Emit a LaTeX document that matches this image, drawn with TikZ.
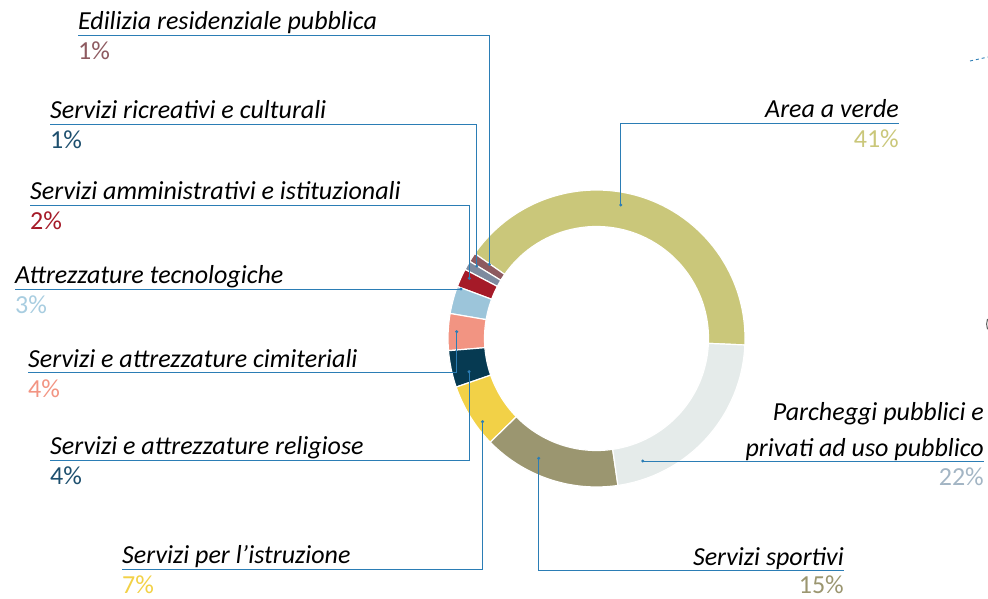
\documentclass[tikz,border=0pt]{standalone}
\usepackage{fontspec}
\setmainfont{Carlito}
\usepackage{tikz}

\definecolor{cVerde}{HTML}{CAC77A}
\definecolor{cEdil}{HTML}{8E5A60}
\definecolor{cRicr}{HTML}{7E8A9F}
\definecolor{cAmm}{HTML}{A51A28}
\definecolor{cTec}{HTML}{9CC5DA}
\definecolor{cCim}{HTML}{F29482}
\definecolor{cRel}{HTML}{063A52}
\definecolor{cIstr}{HTML}{F2D147}
\definecolor{cSport}{HTML}{9B9670}
\definecolor{cParch}{HTML}{E5EBEA}
\definecolor{cLeader}{HTML}{2B7DB5}
\definecolor{tRicr}{HTML}{1D4F6E}
\definecolor{tTec}{HTML}{A8CDE0}
\definecolor{tParch}{HTML}{A3B5C4}

\tikzset{
	lab/.style={inner sep=0pt,font=\itshape\fontsize{26}{30}\selectfont},
	pct/.style={inner sep=0pt,font=\fontsize{26}{30}\selectfont},
	leader/.style={cLeader,line width=0.9pt}
}

\begin{document}
\begin{tikzpicture}[x=1pt,y=1pt]
	\useasboundingbox (0,0) rectangle (988,598);
	% ring
	\begin{scope}[shift={(596.5,259.5)}]
		\def\ringPart#1#2#3{\draw[white,line width=1.2pt,fill=#3] (#1:148.5pt) arc (#1:#2:148.5pt) -- (#2:112pt) arc (#2:#1:112pt) -- cycle;}
		\ringPart{-2.5}{145.1}{cVerde}
		\ringPart{145.1}{148.7}{cEdil}
		\ringPart{148.7}{152.3}{cRicr}
		\ringPart{152.3}{159.5}{cAmm}
		\ringPart{159.5}{170.3}{cTec}
		\ringPart{170.3}{184.7}{cCim}
		\ringPart{184.7}{199.1}{cRel}
		\ringPart{199.1}{224.3}{cIstr}
		\ringPart{224.3}{278.3}{cSport}
		\ringPart{278.3}{357.5}{cParch}
	\end{scope}

	% left labels
	\node[lab,anchor=base west] (tEdil) at (78,568) {Edilizia residenziale pubblica};
	\node[pct,anchor=base west,text=cEdil] (pEdil) at (78,538) {1\%};
	\coordinate (uEdil) at (78,562.5);
	\coordinate (dEdil) at (489.3,333.7);

	\node[lab,anchor=base west] (tRicr) at (50,479.5) {Servizi ricreativi e culturali};
	\node[pct,anchor=base west,text=tRicr] (pRicr) at (50,449.5) {1\%};
	\coordinate (uRicr) at (50,474);
	\coordinate (dRicr) at (476.7,332);

	\node[lab,anchor=base west] (tAmm) at (30,398.5) {Servizi amministrativi e istituzionali};
	\node[pct,anchor=base west,text=cAmm] (pAmm) at (30,368.5) {2\%};
	\coordinate (uAmm) at (30,393);
	\coordinate (dAmm) at (469.3,319.7);

	\node[lab,anchor=base west] (tTec) at (15,314.5) {Attrezzature tecnologiche};
	\node[pct,anchor=base west,text=tTec] (pTec) at (15,284.5) {3\%};
	\coordinate (uTec) at (15,309);
	\coordinate (dTec) at (461,309);

	\node[lab,anchor=base west] (tCim) at (28,230.8) {Servizi e attrezzature cimiteriali};
	\node[pct,anchor=base west,text=cCim] (pCim) at (28,200.8) {4\%};
	\coordinate (uCim) at (28,225.3);
	\coordinate (dCim) at (456.7,266.3);

	\node[lab,anchor=base west] (tRel) at (50,143.5) {Servizi e attrezzature religiose};
	\node[pct,anchor=base west,text=tRicr] (pRel) at (50,113.5) {4\%};
	\coordinate (uRel) at (50,138);
	\coordinate (dRel) at (469,226.3);

	\node[lab,anchor=base west] (tIstr) at (122,34.2) {Servizi per l’istruzione};
	\node[pct,anchor=base west,text=cIstr] (pIstr) at (122,5) {7\%};
	\coordinate (uIstr) at (122,28.7);
	\coordinate (dIstr) at (482.5,176.3);

	% right labels
	\node[lab,anchor=base east] (tVerde) at (899,480) {Area a verde};
	\node[pct,anchor=base east,text=cVerde] (pVerde) at (899,450) {41\%};
	\coordinate (uVerde) at (899,474.5);
	\coordinate (dVerde) at (620.7,393);

	\node[lab,anchor=base east] (tParch) at (984,178) {Parcheggi pubblici e};
	\node[lab,anchor=base east] (tParchB) at (984,141.5) {privati ad uso pubblico};
	\node[pct,anchor=base east,text=tParch] (pParch) at (984,112.5) {22\%};
	\coordinate (uParch) at (984,137);
	\coordinate (dParch) at (642.7,137);

	\node[lab,anchor=base east] (tSport) at (844,32.8) {Servizi sportivi};
	\node[pct,anchor=base east,text=cSport] (pSport) at (844,5) {15\%};
	\coordinate (uSport) at (844,27.3);
	\coordinate (dSport) at (538.7,139.7);

	% leaders
	\draw[leader] (dEdil) |- (uEdil);
	\draw[leader] (dRicr) |- (uRicr);
	\draw[leader] (dAmm) |- (uAmm);
	\draw[leader] (dTec) -- (uTec);
	\draw[leader] (dCim) |- (uCim);
	\draw[leader] (dRel) |- (uRel);
	\draw[leader] (dIstr) |- (uIstr);
	\draw[leader] (dVerde) |- (uVerde);
	\draw[leader] (dParch) -- (uParch);
	\draw[leader] (dSport) |- (uSport);
	\fill[cLeader] (dEdil) circle (1.7) (dRicr) circle (1.7) (dAmm) circle (1.7)
		(dTec) circle (1.7) (dCim) circle (1.7) (dRel) circle (1.7) (dIstr) circle (1.7)
		(dVerde) circle (1.7) (dParch) circle (1.7) (dSport) circle (1.7);

	% cut-off bits at the right edge
	\draw[cLeader,dashed,line width=0.9pt] (970,537) -- (988,541);
	\draw[gray!70!black,line width=1pt] (987.5,279) arc (160:200:15);
\end{tikzpicture}
\end{document}
